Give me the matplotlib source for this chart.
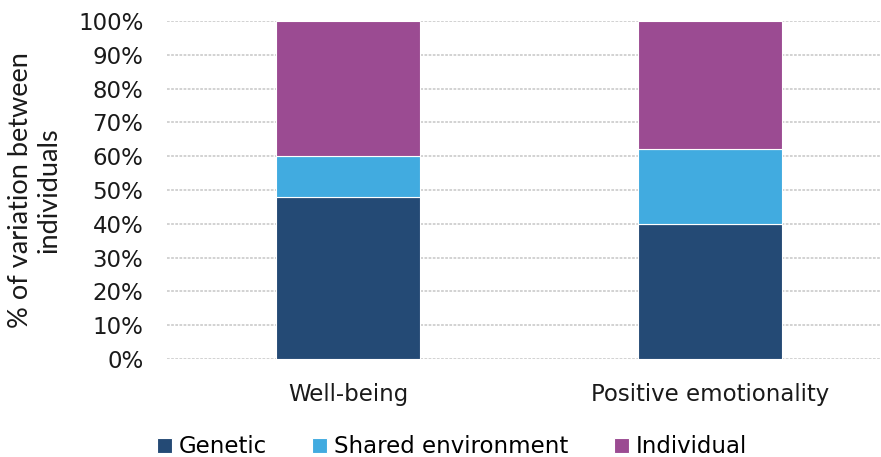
import matplotlib
matplotlib.use("Agg")
import matplotlib.pyplot as plt
import numpy as np
from matplotlib.ticker import PercentFormatter, MultipleLocator

categories = ["Well-being", "Positive emotionality"]
series_names = ["Genetic", "Shared environment", "Individual"]
genetic = [48, 40]
shared_env = [12, 22]
individual = [40, 38]
colors = ["#244a75", "#41abe0", "#9b4b92"]

fig = plt.figure(figsize=(8.81, 4.57), dpi=100)
ax = fig.add_axes([0.1896, 0.2144, 0.8093, 0.7396])

x = np.arange(len(categories))
bottom = np.zeros(len(categories))
for name, vals, col in zip(series_names, [genetic, shared_env, individual], colors):
    ax.bar(x, vals, width=0.4, bottom=bottom, color=col, edgecolor="white",
           linewidth=0.8, label=name, zorder=3)
    bottom += np.array(vals)

ax.set_ylim(0, 100)
ax.set_xlim(-0.5, 1.47)
ax.yaxis.set_major_locator(MultipleLocator(10))
ax.yaxis.set_major_formatter(PercentFormatter(decimals=0))
ax.set_xticks(x)
ax.set_xticklabels(categories)
ax.tick_params(axis="both", length=0, labelsize=16.5, colors="#1a1a1a")
ax.tick_params(axis="y", pad=17)
ax.tick_params(axis="x", pad=17)
ax.grid(axis="y", color="#cfcfcf", linestyle=(0, (1.5, 0.8)), linewidth=1.3, zorder=0)
for s in ax.spines.values():
    s.set_visible(False)

ax.set_ylabel("% of variation between\nindividuals", fontsize=19.5, family="Lato",
              color="#1a1a1a", linespacing=1.15, labelpad=12)

handles, labels = ax.get_legend_handles_labels()
fig.legend(handles, labels, loc="lower center", bbox_to_anchor=(0.513, -0.048), ncol=3,
           frameon=False, fontsize=16.5, handlelength=0.65, handleheight=0.65,
           handletextpad=0.3, columnspacing=2.0)

fig.savefig("out.png", dpi=100)
